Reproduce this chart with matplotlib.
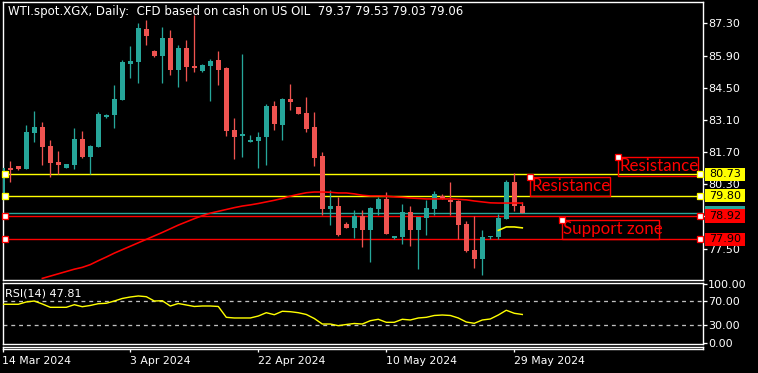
import numpy as np
import matplotlib
matplotlib.use("Agg")
import matplotlib.pyplot as plt
from matplotlib.patches import Rectangle
import matplotlib.transforms as mtransforms

# ---------------- data ----------------
opens = [79.61, 81.02, 81.09, 80.97, 82.54, 82.79, 81.98, 81.27, 81.02, 81.13,
         82.27, 81.50, 81.93, 83.22, 83.31, 83.97, 85.53, 85.62, 87.05, 86.08,
         85.89, 86.66, 85.27, 86.22, 85.44, 85.23, 85.44, 85.71, 85.36, 82.66,
         82.40, 82.14, 82.19, 82.35, 83.70, 82.88, 84.01, 83.66, 83.40, 82.79,
         81.53, 79.22, 79.35, 78.57, 78.39, 78.91, 78.30, 79.22, 79.66, 77.96,
         78.00, 79.09, 78.30, 78.83, 79.22, 79.79, 79.61, 79.57, 78.57, 77.43,
         77.04, 78.00, 78.00, 78.78, 80.39, 79.37]
highs = [81.05, 81.31, 81.09, 82.88, 83.49, 83.01, 82.22, 81.74, 81.18, 82.76,
         82.61, 82.00, 83.44, 83.35, 84.62, 85.71, 86.33, 87.32, 87.47, 86.13,
         87.14, 87.01, 86.36, 86.59, 87.67, 85.53, 85.75, 86.10, 85.41, 83.19,
         85.98, 82.44, 82.57, 83.79, 83.93, 84.05, 84.66, 83.66, 84.09, 83.46,
         81.70, 80.05, 79.74, 78.65, 79.18, 79.18, 79.31, 79.74, 79.96, 78.04,
         79.44, 79.35, 78.87, 79.61, 80.00, 79.87, 80.39, 79.61, 78.70, 78.91,
         78.30, 78.04, 79.00, 80.48, 80.79, 79.53]
lows = [79.55, 80.41, 80.92, 80.95, 82.15, 81.15, 80.63, 80.74, 81.02, 80.96,
        81.44, 80.74, 81.93, 83.18, 82.76, 83.97, 84.93, 84.72, 86.37, 85.84,
        84.72, 85.05, 84.54, 84.80, 85.20, 85.18, 83.93, 84.62, 82.40, 81.41,
        81.50, 82.14, 81.02, 81.15, 82.66, 82.24, 83.53, 83.37, 82.57, 81.10,
        78.96, 78.52, 78.04, 78.39, 77.96, 77.56, 76.91, 78.96, 78.13, 77.91,
        77.69, 77.61, 76.61, 78.09, 78.96, 79.66, 78.96, 77.91, 77.35, 76.65,
        76.35, 77.91, 77.91, 78.78, 79.13, 79.03]
closes = [81.00, 80.92, 80.98, 82.57, 82.79, 81.93, 81.24, 81.15, 81.18, 82.27,
          81.47, 81.96, 83.35, 83.31, 84.01, 85.62, 85.66, 87.11, 86.75, 85.90,
          86.66, 85.27, 86.22, 85.40, 85.36, 85.49, 85.66, 85.27, 82.61, 82.35,
          82.48, 82.22, 82.37, 83.70, 82.92, 84.01, 83.88, 83.37, 82.70, 81.45,
          79.22, 79.35, 78.09, 78.39, 78.91, 78.30, 79.26, 79.66, 78.13, 78.04,
          79.09, 78.30, 78.87, 79.26, 79.87, 79.66, 79.52, 78.52, 77.39, 77.04,
          78.00, 78.04, 78.83, 80.39, 79.35, 79.06]

# red moving average, starts at bar 5
ma_start = 5
ma_values = [76.20, 76.30, 76.40, 76.50, 76.60, 76.68, 76.80, 76.97, 77.13, 77.30,
             77.45, 77.60, 77.75, 77.90, 78.05, 78.20, 78.36, 78.52, 78.66, 78.80,
             78.93, 79.04, 79.12, 79.20, 79.28, 79.35, 79.40, 79.46, 79.53, 79.60,
             79.68, 79.78, 79.86, 79.93, 79.96, 79.96, 79.95, 79.92, 79.92, 79.88,
             79.82, 79.79, 79.79, 79.78, 79.75, 79.73, 79.70, 79.68, 79.66, 79.66,
             79.66, 79.66, 79.64, 79.62, 79.57, 79.53, 79.49, 79.48, 79.48, 79.48,
             79.48]
# short yellow average near the end
ma2_start = 62
ma2_values = [78.29, 78.44, 78.44, 78.40]

rsi_values = [65.0, 65.0, 65.0, 68.9, 70.5, 65.5, 59.9, 59.9, 59.9, 64.3,
              60.9, 63.0, 66.0, 66.7, 70.5, 74.8, 77.3, 79.0, 77.8, 70.5,
              71.0, 62.1, 66.3, 63.8, 61.3, 62.1, 62.1, 61.3, 43.0, 41.9,
              41.9, 41.9, 45.2, 50.8, 47.4, 53.2, 52.5, 50.8, 47.8, 41.0,
              31.7, 31.7, 28.9, 30.9, 32.6, 31.7, 37.3, 39.7, 34.6, 34.6,
              39.7, 38.5, 41.9, 43.0, 46.1, 46.9, 46.1, 41.9, 35.1, 32.9,
              38.5, 40.2, 46.9, 54.9, 49.8, 47.81]

price_ticks = [87.30, 85.90, 84.50, 83.10, 81.70, 80.30, 78.90, 77.50]
rsi_ticks = [100.0, 70.0, 30.0, 0.0]
rsi_levels = [70.0, 30.0]

date_tick_bars = [0, 16, 32, 48, 64]
date_tick_labels = ["14 Mar 2024", "3 Apr 2024", "22 Apr 2024", "10 May 2024", "29 May 2024"]

yellow_levels = [80.73, 79.80]
red_levels = [78.92, 77.90]
bid_price = 79.06

notes = [("Resistance", 77.0, 87.0, 81.47, 80.66),
         ("Resistance", 66.0, 76.0, 80.60, 79.77),
         ("Support zone", 70.0, 82.1, 78.73, 77.91)]

title = "WTI.spot.XGX, Daily:  CFD based on cash on US OIL  79.37 79.53 79.03 79.06"
rsi_label = "RSI(14) 47.81"

# ---------------- style ----------------
BULL = "#26a69a"
BEAR = "#ef5350"
W, H = 758, 373
PX = 72.0 / 100.0  # points per pixel

fig = plt.figure(figsize=(W / 100, H / 100), dpi=100, facecolor="black")


def axes_px(x0, y0, x1, y1):
    a = fig.add_axes([x0 / W, 1 - y1 / H, (x1 - x0) / W, (y1 - y0) / H])
    a.set_facecolor("black")
    for s in a.spines.values():
        s.set_color("white")
        s.set_linewidth(1.0 * PX * 1.4)
    return a


ax = axes_px(2.5, 2.3, 702.7, 280)
rax = axes_px(2.5, 282.7, 702.7, 344)
dax = axes_px(2.5, 346.7, 702.7, 349.3)

n = len(opens)
x = np.arange(n)
xlim = (0.025, 87.55)
for a in (ax, rax, dax):
    a.set_xlim(*xlim)

ax.set_ylim(76.13, 88.22)
rax.set_ylim(-2.0, 101.4)

# candles
o = np.array(opens); c = np.array(closes); h = np.array(highs); l = np.array(lows)
colors = [BULL if cc >= oo else BEAR for oo, cc in zip(o, c)]
ax.vlines(x, l, h, colors=colors, linewidth=1.0 * PX * 1.3, zorder=3)
body_bottom = np.minimum(o, c)
body_h = np.maximum(np.abs(c - o), 0.05)
ax.bar(x, body_h, bottom=body_bottom, width=0.62, color=colors, linewidth=0, zorder=4)

# horizontal lines
lw1 = 1.0 * PX * 1.4
for lev in yellow_levels:
    ax.axhline(lev, color="#ffff00", linewidth=lw1, zorder=2)
for lev in red_levels:
    ax.axhline(lev, color="#ff0000", linewidth=lw1, zorder=2)
ax.axhline(bid_price, color=BULL, linewidth=lw1, zorder=2)

# moving averages
ax.plot(np.arange(ma_start, ma_start + len(ma_values)), ma_values, color="#ff0000",
        linewidth=1.6 * PX, zorder=5)
ax.plot(np.arange(ma2_start, ma2_start + len(ma2_values)), ma2_values, color="#ffff00",
        linewidth=1.6 * PX, zorder=5)

# line end markers
btr = mtransforms.blended_transform_factory(ax.transAxes, ax.transData)
for lev, col in [(v, "#ffff00") for v in yellow_levels] + [(v, "#ff0000") for v in red_levels]:
    ax.plot([0.004, 0.9961], [lev, lev], linestyle="none", marker="s", markersize=5 * PX * 1.1,
            markerfacecolor="white", markeredgecolor=col, markeredgewidth=1.0 * PX * 1.3,
            transform=btr, clip_on=False, zorder=8)

# text notes with frames
for txt, x0, x1, ytop, ybot in notes:
    ax.add_patch(Rectangle((x0, ybot), x1 - x0, ytop - ybot, fill=False,
                           edgecolor="#ff0000", linewidth=1.0 * PX * 1.4, zorder=6, clip_on=False))
    ax.text(x0 + 0.1, (ytop + ybot) / 2 + 0.02, txt, color="#ff0000", family="Lato",
            fontsize=12.2, ha="left", va="center", zorder=7)
    ax.plot([x0], [ytop], linestyle="none", marker="s", markersize=5 * PX * 1.1,
            markerfacecolor="white", markeredgecolor="#ff0000",
            markeredgewidth=1.0 * PX * 1.3, zorder=8, clip_on=False)

# price axis
FS = 8
ax.yaxis.tick_right()
ax.set_yticks(price_ticks)
ax.set_yticklabels([f"{v:.2f}" for v in price_ticks])
ax.tick_params(axis="y", colors="white", labelcolor="white", length=4 * PX, width=1.0 * PX * 1.3,
               pad=1.2 * PX, labelsize=FS, direction="out")
ax.set_xticks([])

# price tags on axis (bid tag is mostly covered, so it shows as a strip only)
tag_h = 0.58
xa0 = (705 - 2.5) / 700.2
xa1 = (745 - 2.5) / 700.2
ax.add_patch(Rectangle((xa0, bid_price - tag_h / 2), xa1 - xa0, tag_h, transform=btr,
                       facecolor=BULL, edgecolor="none", clip_on=False, zorder=10))
tags = [(yellow_levels[0], "#ffff00"), (yellow_levels[1], "#ffff00"),
        (red_levels[0], "#ff0000"), (red_levels[1], "#ff0000")]
for z, (lev, bg) in enumerate(tags):
    ax.add_patch(Rectangle((xa0, lev - tag_h / 2), xa1 - xa0, tag_h, transform=btr,
                           facecolor=bg, edgecolor="none", clip_on=False, zorder=11 + z))
    ax.text((xa0 + xa1) / 2, lev, f"{lev:.2f}", transform=btr, color="black", fontsize=FS,
            ha="center", va="center", clip_on=False, zorder=11.5 + z)

# title
ax.text(0.0079, 0.967, title, transform=ax.transAxes, color="white", fontsize=8.5,
        ha="left", va="center", zorder=12)

# RSI panel
rax.plot(x, rsi_values, color="#ffff00", linewidth=1.0 * PX * 1.4, zorder=4)
for lev in rsi_levels:
    rax.axhline(lev, color="#c0c0c0", linewidth=1.0 * PX * 1.3, linestyle=(0, (3, 3)), zorder=2)
rax.yaxis.tick_right()
rax.set_yticks(rsi_ticks)
rax.set_yticklabels([f"{v:.2f}" for v in rsi_ticks])
rax.tick_params(axis="y", colors="white", labelcolor="white", length=4 * PX, width=1.0 * PX * 1.3,
                pad=1.2 * PX, labelsize=FS, direction="out")
rax.set_xticks([])
rax.text(0.0036, 0.83, rsi_label, transform=rax.transAxes, color="white", fontsize=FS,
         ha="left", va="center")

# date strip
dax.set_yticks([])
dax.set_xticks(date_tick_bars)
dax.set_xticklabels(date_tick_labels)
dax.tick_params(axis="x", colors="white", labelcolor="white", length=3.4 * PX,
                width=1.0 * PX * 1.3, pad=3 * PX, labelsize=7.8, direction="out")
for lab in dax.get_xticklabels():
    lab.set_horizontalalignment("left")

fig.savefig("out.png", dpi=100, facecolor="black")
